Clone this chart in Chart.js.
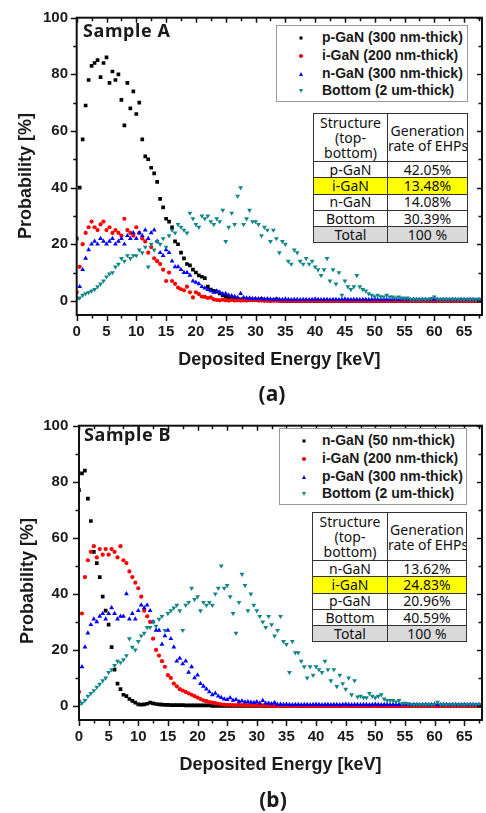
<!DOCTYPE html>
<html>
<head>
<meta charset="utf-8">
<script src="https://cdn.jsdelivr.net/npm/chart.js@4.4.1/dist/chart.umd.min.js"></script>
<style>
  body { margin: 0; background: #fff; }
  #page { position: relative; width: 486px; height: 813px; overflow: hidden; font-family: "Liberation Sans", Arial, sans-serif; color: #1a1a1a; }
  .plot { position: absolute; left: 0; }
  .ytitle { position: absolute; font: bold 18px "Liberation Sans", Arial, sans-serif; transform: translate(-50%, -50%) rotate(-90deg); white-space: nowrap; }
  .sample { position: absolute; font: bold 18px "Noto Sans", sans-serif; letter-spacing: 0.6px; line-height: 19px; }
  .cap { position: absolute; font: bold 21px "Noto Sans", sans-serif; transform: translate(-50%, -50%); }
  .legend { position: absolute; border: 1px solid #9a9a9a; background: #fff; box-sizing: border-box; }
  .lrow { position: absolute; left: 0; right: 0; height: 18px; }
  .lt { position: absolute; top: 0; line-height: 18px; font: bold 14px "Liberation Sans", Arial, sans-serif; white-space: nowrap; }
  .mk { position: absolute; left: 24px; top: 9px; transform: translate(-50%, -50%); }
  .sq { width: 3px; height: 3px; background: #000; }
  .ci { width: 4px; height: 4px; border-radius: 50%; background: #ff0000; }
  .tu { width: 0; height: 0; border-left: 2.5px solid transparent; border-right: 2.5px solid transparent; border-bottom: 4px solid #0000ff; }
  .td { width: 0; height: 0; border-left: 2.5px solid transparent; border-right: 2.5px solid transparent; border-top: 4px solid #128686; }
  table.gen { position: absolute; border-collapse: collapse; font: 14px "Noto Sans", sans-serif; color: #111; background: #fff; border: 1.5px solid #333; table-layout: fixed; }
  table.gen td { border: 1px solid #333; text-align: center; padding: 0; line-height: 14px; white-space: nowrap; overflow: hidden; }
  table.gen tr.head td { line-height: 15px; }
  table.gen tr.hl td { background: #ffff00; }
  table.gen tr.tot td { background: #d9d9d9; }
</style>
</head>
<body>
<div id="page">
  <canvas id="chartA" class="plot" width="486" height="406" style="top:0"></canvas>
  <canvas id="chartB" class="plot" width="486" height="407" style="top:406px"></canvas>
  <div class="ytitle" style="left:25px; top:176px">Probability [%]</div>
  <div class="ytitle" style="left:27px; top:581px">Probability [%]</div>
  <div class="sample" style="left:83px; top:21px">Sample A</div>
  <div class="sample" style="left:84px; top:425px">Sample B</div>
  <div class="cap" style="left:272px; top:393px">(a)</div>
  <div class="cap" style="left:273px; top:799px">(b)</div>
  <div id="legA" class="legend" style="left:276px; top:25px; width:192px; height:77px"></div>
  <div id="legB" class="legend" style="left:279px; top:428px; width:188px; height:77px"></div>
  <table id="tabA" class="gen" style="left:313px; top:113px; width:154px"></table>
  <table id="tabB" class="gen" style="left:312px; top:512px; width:154px"></table>
</div>
<script>
const energy = [
  0,0.5,1,1.5,2,2.5,3,3.5,4,4.5,
  5,5.5,6,6.5,7,7.5,8,8.5,9,9.5,
  10,10.5,11,11.5,12,12.5,13,13.5,14,14.5,
  15,15.5,16,16.5,17,17.5,18,18.5,19,19.5,
  20,20.5,21,21.5,22,22.5,23,23.5,24,24.5,
  25,25.5,26,26.5,27,27.5,28,28.5,29,29.5,
  30,30.5,31,31.5,32,32.5,33,33.5,34,34.5,
  35,35.5,36,36.5,37,37.5,38,38.5,39,39.5,
  40,40.5,41,41.5,42,42.5,43,43.5,44,44.5,
  45,45.5,46,46.5,47,47.5,48,48.5,49,49.5,
  50,50.5,51,51.5,52,52.5,53,53.5,54,54.5,
  55,55.5,56,56.5,57,57.5,58,58.5,59,59.5,
  60,60.5,61,61.5,62,62.5,63,63.5,64,64.5,
  65,65.5,66,66.5,67,67.5,68
];

const xTicks = [0, 5, 10, 15, 20, 25, 30, 35, 40, 45, 50, 55, 60, 65];
const yTicks = [0, 20, 40, 60, 80, 100];

// Sample A
const pGaN_A = [
  22,40,57,69,78,83,84,85,79,84,
  86,77,81,78,80,71,62,77,68,74,
  66,70,57,51,50,47,45,42,36,33,
  29,28,26,21,20,17,15,13,12.5,11,
  10,9,8.5,8,5,4,3.5,3.2,2.6,2,
  1.5,1.2,1,0.8,0.6,0.5,0.5,0.4,0.3,0.4,
  0.3,0.2,0.6,0.2,0.2,0.1,0.2,0.5,0.1,0,
  0,0,0,0,0,0,0,0,0,0,
  0,0,0,0,0,0,0,0,0,0,
  0,0,0,0,0,0,0,0,0,0,
  0,0,0,0,0,0,0,0,0,0,
  0,0,0,0,0,0,0,0,0,0,
  0,0,0,0,0,0,0,0,0,0,
  0,0,0,0,0,0,0
];
const iGaN_A = [
  3,12,20,24,26,28,26,25,27,28,
  25,26,24,25,24,23,29,25,24,23,
  26,24,22,21,17,19,15,14,13,11,
  7,10,7,6,4.7,4.1,3.7,5,3,1.2,
  3,2.4,1.5,1.4,1,1.2,0.5,0.3,0.2,0.4,
  0.2,0.1,0.3,0.1,0.2,0.1,0.2,0.1,0.4,0.2,
  0.5,0.1,0.1,0,0,0,0,0,0,0,
  0,0,0,0,0,0,0,0,0,0,
  0,0,0,0,0,0,0,0,0,0,
  0,0,0,0,0,0,0,0,0,0,
  0,0,0,0,0,0,0,0,0,0,
  0,0,0,0,0,0,0,0,0,0,
  0,0,0,0,0,0,0,0,0,0,
  0,0,0,0,0,0,0
];
const nGaN_A = [
  1,5,11,15,18,20,21,20,22,21,
  20,21,22,20,21,22,20,23,22,24,
  22,24,23,25,22,24,25,21,17,16,
  18,17,14,12,12,11,10,10,9,7,
  6.5,6,5,4.5,4,3.5,3,3.5,3,2.5,
  2.6,2,1.8,1.5,1.2,2.6,1.2,1,1,0.8,
  0.8,0.7,0.8,0.6,0.7,0.6,0.5,0.6,0.5,0.5,
  0.6,0.5,0.4,0.5,0.5,0.4,0.5,0.5,0.4,0.5,
  0.6,0.5,0.4,0.5,0.5,0.4,0.5,0.5,0.4,0.5,
  0.6,0.5,0.4,0.5,0.5,0.4,0.5,0.5,0.4,0.5,
  0.6,0.5,0.4,0.5,0.5,0.4,0.5,0.5,0.4,0.5,
  0.6,0.5,0.4,0.5,0.5,0.4,0.5,0.5,0.4,0.5,
  0.6,0.5,0.4,0.5,0.5,0.4,0.5,0.5,0.4,0.5,
  0.5,0.4,0.5,0.5,0.4,0.5,0.5
];
const bottom_A = [
  0.5,1,2,2.5,3,3.5,4,5,6,7,
  8.5,9.5,10,12,13,15,14,16,15,16,
  16,18,17,19,12,20,18,21,20,22,
  19,23,25,24,27,26,25,24,31,29,
  27,26,30,29,30,28,27,29,28,32,
  21,26,31,27,37,40,27,29,32,28,
  28,27,23,26,25,21,25,22,17,21,
  20,14,13,18,17,14,13,15,13,14,
  12,11,9,11,15,7,11,6,10,2,
  7,5,4,5,9,5,4,3.5,2.5,2,
  1.5,2,1.5,1.4,2,1.4,1.4,1,1.4,1,
  0.8,1,0.6,0.5,0.6,0.5,0.6,0.5,0.6,0.8,
  1.4,0.6,0.5,0.6,0.5,0.6,0.5,0.6,0.5,0.6,
  0.5,0.6,0.5,0.6,0.5,0.6,0.5
];

// Sample B
const nGaN_B = [
  77,83,84,74,66,55,51,46,39,34,
  29,21,13,8,6,4,3.5,2.5,1.8,1.2,
  0.6,0.5,0.6,0.8,1.2,0.9,0.7,0.6,0.5,0.4,
  0.4,0.3,0.3,0.3,0.3,0.3,0.2,0.2,0.2,0.2,
  0.2,0.2,0.2,0.2,0.2,0,0,0,0,0,
  0,0,0,0,0,0,0,0,0,0,
  0,0,0,0,0,0,0,0,0,0,
  0,0,0,0,0,0,0,0,0,0,
  0,0,0,0,0,0,0,0,0,0,
  0,0,0,0,0,0,0,0,0,0,
  0,0,0,0,0,0,0,0,0,0,
  0,0,0,0,0,0,0,0,0,0,
  0,0,0,0,0,0,0,0,0,0,
  0,0,0,0,0,0,0
];
const iGaN_B = [
  5,33,46,52,55,57,53,56,54,56,
  54,56,55,53,57,52,51,48,46,44,
  42,39,34,32,30,24,20,18,16,14,
  11,10,8,7,6,5.5,5,4.5,4,3.5,
  3,2.5,2,1.7,1.4,1.2,1,0.8,0.6,0.5,
  0.4,0.4,0.3,0.3,0.4,0.3,0.3,0.2,0.3,0.2,
  0.3,0.2,0.2,0.2,0.1,0,0,0,0,0,
  0,0,0,0,0,0,0,0,0,0,
  0,0,0,0,0,0,0,0,0,0,
  0,0,0,0,0,0,0,0,0,0,
  0,0,0,0,0,0,0,0,0,0,
  0,0,0,0,0,0,0,0,0,0,
  0,0,0,0,0,0,0,0,0,0,
  0,0,0,0,0,0,0
];
const pGaN_B = [
  2,14,21,26,29,31,30,32,33,31,
  33,35,33,31,32,32,40,31,33,31,
  34,36,35,36,34,30,27,27,22,25,
  27,24,21,16,17,15,16,12,14,10,
  11,8,7,6,5,4,4.5,3.5,3,2.5,
  2.3,2.9,2,2.3,1.6,1.8,1.4,1.5,1.3,1.2,
  1.5,1,1.9,1,1,0.8,1.2,0.5,0.6,0.5,
  0.6,0.5,0.4,0.5,0.5,0.4,0.5,0.5,0.4,0.5,
  0.6,0.5,0.4,0.5,0.5,0.4,0.5,0.5,0.4,0.5,
  0.6,0.5,0.4,0.5,0.5,0.4,0.5,0.5,0.4,0.5,
  0.6,0.5,0.4,0.5,0.5,0.4,0.5,0.5,0.4,0.5,
  0.6,0.5,0.4,0.5,0.5,0.4,0.5,0.5,0.4,0.5,
  0.6,0.5,0.4,0.5,0.5,0.4,0.5,0.5,0.4,0.5,
  0.5,0.4,0.5,0.5,0.4,0.5,0.5
];
const bottom_B = [
  0.3,1,2,3.5,4.5,5.5,6.7,7.8,9,10,
  12,13,14.5,16,15.5,16.5,18,24,21,20,
  23,25,26,28,28,30,28.5,31,32,27,
  33,34,35,36,34,27,36,37,42,38,
  39,34,37,36,37,36,40,42,50,42,
  43,39,33,26,37,47,43,34,40,36,
  34,32,30,28,32,29,25,27,32,23,
  22,12,23,19,19,16,14,10,14,11,
  14,13,12,16,13,9,13,7,11,8,
  6,10,4,9,3.2,3.5,3,3,4.5,3.5,
  3,3.5,4,2.5,2,2,2,1.5,2,0.8,
  1,0.8,0.6,0.5,0.6,0.5,0.6,0.5,0.6,0.5,
  0.6,1.4,0.5,0.6,0.5,0.6,0.5,0.6,0.5,0.6,
  0.5,0.6,0.5,0.6,0.5,0.6,0.5
];

const legendA = ['p-GaN (300 nm-thick)', 'i-GaN (200 nm-thick)', 'n-GaN (300 nm-thick)', 'Bottom (2 um-thick)'];
const legendB = ['n-GaN (50 nm-thick)', 'i-GaN (200 nm-thick)', 'p-GaN (300 nm-thick)', 'Bottom (2 um-thick)'];
const markerClass = ['sq', 'ci', 'tu', 'td'];

const layersA = ['p-GaN', 'i-GaN', 'n-GaN', 'Bottom'];
const ratesA = ['42.05%', '13.48%', '14.08%', '30.39%'];
const layersB = ['n-GaN', 'i-GaN', 'p-GaN', 'Bottom'];
const ratesB = ['13.62%', '24.83%', '20.96%', '40.59%'];

const colors = ['#000000', '#ff0000', '#0000ff', '#128686'];
const styles = [
  { pointStyle: 'rect', r: 2.6, rot: 0 },
  { pointStyle: 'circle', r: 2.1, rot: 0 },
  { pointStyle: 'triangle', r: 2.8, rot: 0 },
  { pointStyle: 'triangle', r: 2.8, rot: 180 }
];

// axis box with Origin style ticks (out on bottom/left, in on top/right)
const framePlugin = {
  id: 'frame',
  afterDraw(chart) {
    const { ctx, chartArea: a, scales: { x, y } } = chart;
    ctx.save();
    ctx.strokeStyle = '#111';
    ctx.lineWidth = 2;
    ctx.strokeRect(a.left, a.top, a.right - a.left, a.bottom - a.top);
    ctx.lineWidth = 1.5;
    ctx.beginPath();
    for (let v = 0; v <= 68; v += 2.5) {
      const px = Math.round(x.getPixelForValue(v)) + 0.5;
      const major = v % 5 === 0;
      ctx.moveTo(px, a.bottom); ctx.lineTo(px, a.bottom + (major ? 6 : 3.5));
      ctx.moveTo(px, a.top); ctx.lineTo(px, a.top + (major ? 5 : 3.5));
    }
    for (let v = 0; v <= 100; v += 10) {
      const py = Math.round(y.getPixelForValue(v)) + 0.5;
      const major = v % 20 === 0;
      ctx.moveTo(a.left, py); ctx.lineTo(a.left - (major ? 6 : 3.5), py);
      ctx.moveTo(a.right, py); ctx.lineTo(a.right - (major ? 5 : 3.5), py);
    }
    ctx.stroke();
    ctx.restore();
  }
};

function buildChart(id, seriesList, geo) {
  const tickFont = { family: '"Liberation Sans", Arial, sans-serif', size: 15, weight: 'bold' };
  return new Chart(document.getElementById(id), {
    type: 'scatter',
    data: {
      datasets: seriesList.map((vals, k) => ({
        data: energy.map((e, i) => ({ x: e, y: vals[i] })),
        pointStyle: styles[k].pointStyle,
        pointRadius: styles[k].r,
        pointRotation: styles[k].rot,
        pointBackgroundColor: colors[k],
        pointBorderColor: colors[k],
        pointBorderWidth: 0,
        showLine: false,
        order: seriesList.length - 1 - k
      }))
    },
    options: {
      responsive: false,
      animation: false,
      events: [],
      layout: { padding: { top: geo.top, right: geo.right, left: 0, bottom: 0 } },
      plugins: { legend: { display: false }, tooltip: { enabled: false } },
      scales: {
        x: {
          type: 'linear', min: 0, max: 68,
          grid: { display: false, drawTicks: false },
          border: { display: false },
          afterBuildTicks: sc => { sc.ticks = xTicks.map(v => ({ value: v })); },
          afterFit: sc => { sc.height = geo.xh; },
          ticks: { padding: geo.xpad, font: tickFont, color: '#1a1a1a', autoSkip: false, maxRotation: 0, callback: v => v },
          title: {
            display: true, text: 'Deposited Energy [keV]', color: '#1a1a1a',
            font: { family: '"Liberation Sans", Arial, sans-serif', size: 18, weight: 'bold' },
            padding: { top: 0, bottom: geo.titlePad }
          }
        },
        y: {
          type: 'linear', min: -5, max: 100,
          grid: { display: false, drawTicks: false },
          border: { display: false },
          afterBuildTicks: sc => { sc.ticks = yTicks.map(v => ({ value: v })); },
          afterFit: sc => { sc.width = geo.left; },
          ticks: { padding: geo.ypad, font: tickFont, color: '#1a1a1a', callback: v => v }
        }
      }
    },
    plugins: [framePlugin]
  });
}

function buildLegend(id, labels, textLeft) {
  const box = document.getElementById(id);
  labels.forEach((txt, k) => {
    const row = document.createElement('div');
    row.className = 'lrow';
    row.style.top = (3 + 17.8 * k) + 'px';
    row.innerHTML = `<span class="mk ${markerClass[k]}"></span><span class="lt" style="left:${textLeft}px">${txt}</span>`;
    box.appendChild(row);
  });
}

function buildTable(id, layers, rates, rowH, c1, c2) {
  const t = document.getElementById(id);
  let html = `<colgroup><col style="width:${c1}px"><col style="width:${c2}px"></colgroup>`;
  html += `<tr class="head" style="height:48px"><td>Structure<br>(top-<br>bottom)</td><td>Generation<br>rate of EHPs</td></tr>`;
  layers.forEach((name, i) => {
    const cls = name === 'i-GaN' ? ' class="hl"' : '';
    html += `<tr${cls} style="height:${rowH}px"><td>${name}</td><td>${rates[i]}</td></tr>`;
  });
  html += `<tr class="tot" style="height:${rowH}px"><td>Total</td><td>100 %</td></tr>`;
  t.innerHTML = html;
}

buildChart('chartA', [pGaN_A, iGaN_A, nGaN_A, bottom_A],
  { top: 14, right: 2, left: 76.7, xh: 91, xpad: 8, ypad: 8.7, titlePad: 35 });
buildChart('chartB', [nGaN_B, iGaN_B, pGaN_B, bottom_B],
  { top: 12.3, right: 1, left: 79, xh: 93, xpad: 8, ypad: 10.7, titlePad: 37 });

buildLegend('legA', legendA, 45);
buildLegend('legB', legendB, 42);
buildTable('tabA', layersA, ratesA, 16.3, 74, 80);
buildTable('tabB', layersB, ratesB, 16.3, 75, 79);
</script>
</body>
</html>
